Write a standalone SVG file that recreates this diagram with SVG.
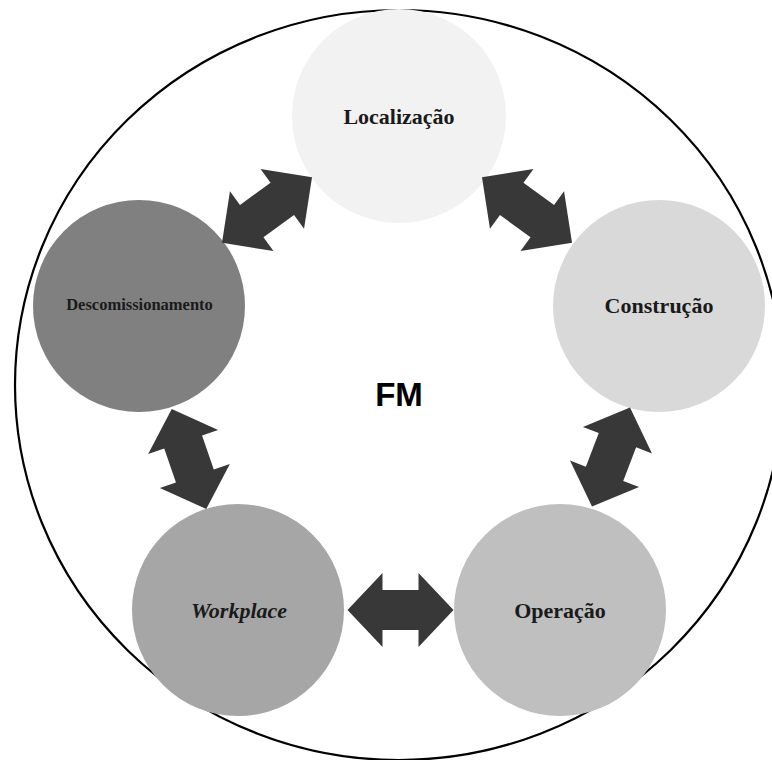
<svg xmlns="http://www.w3.org/2000/svg" width="772" height="760" viewBox="0 0 772 760">
  <defs>
    <style>
      .lbl { font-family: "Liberation Serif", "Times New Roman", serif; font-weight: bold; font-size: 22px; fill: #1a1a1a; text-anchor: middle; }
      .arrow { fill: #383838; }
      .node { stroke: none; }
    </style>
    <path id="dbl" d="M -53,0 L -18,-37 L -18,-20 L 18,-20 L 18,-37 L 53,0 L 18,37 L 18,20 L -18,20 L -18,37 Z"/>
  </defs>
  <rect width="772" height="760" fill="#ffffff"/>
  <ellipse id="outer" cx="399" cy="385" rx="384" ry="375" fill="none" stroke="#000" stroke-width="2.2"/>

  <g id="node-localizacao">
    <circle class="node" cx="399" cy="116" r="107" fill="#f2f2f2"/>
    <text class="lbl" x="399" y="124">Localização</text>
  </g>
  <g id="node-construcao">
    <circle class="node" cx="659" cy="306" r="106" fill="#d9d9d9"/>
    <text class="lbl" x="659" y="313">Construção</text>
  </g>
  <g id="node-operacao">
    <circle class="node" cx="560" cy="610" r="106" fill="#bfbfbf"/>
    <text class="lbl" x="560" y="618">Operação</text>
  </g>
  <g id="node-workplace">
    <circle class="node" cx="238" cy="610" r="106" fill="#a6a6a6"/>
    <text class="lbl" x="239" y="618" font-style="italic">Workplace</text>
  </g>
  <g id="node-descomissionamento">
    <circle class="node" cx="139" cy="306" r="106" fill="#808080"/>
    <text class="lbl" x="139.5" y="310" style="font-size:16.5px">Descomissionamento</text>
  </g>

  <g id="center-label">
    <text x="399" y="406" font-family="'Liberation Sans', Arial, sans-serif" font-weight="bold" font-size="33" fill="#000" text-anchor="middle">FM</text>
  </g>

  <g id="connectors">
    <use href="#dbl" class="arrow" transform="translate(267,210) rotate(-36) scale(1.05,1)"/>
    <use href="#dbl" class="arrow" transform="translate(527,210) rotate(36) scale(1.05,1)"/>
    <use href="#dbl" class="arrow" transform="translate(611,457) rotate(-69)"/>
    <use href="#dbl" class="arrow" transform="translate(189,459) rotate(71)"/>
    <use href="#dbl" class="arrow" transform="translate(400.5,610)"/>
  </g>
</svg>
